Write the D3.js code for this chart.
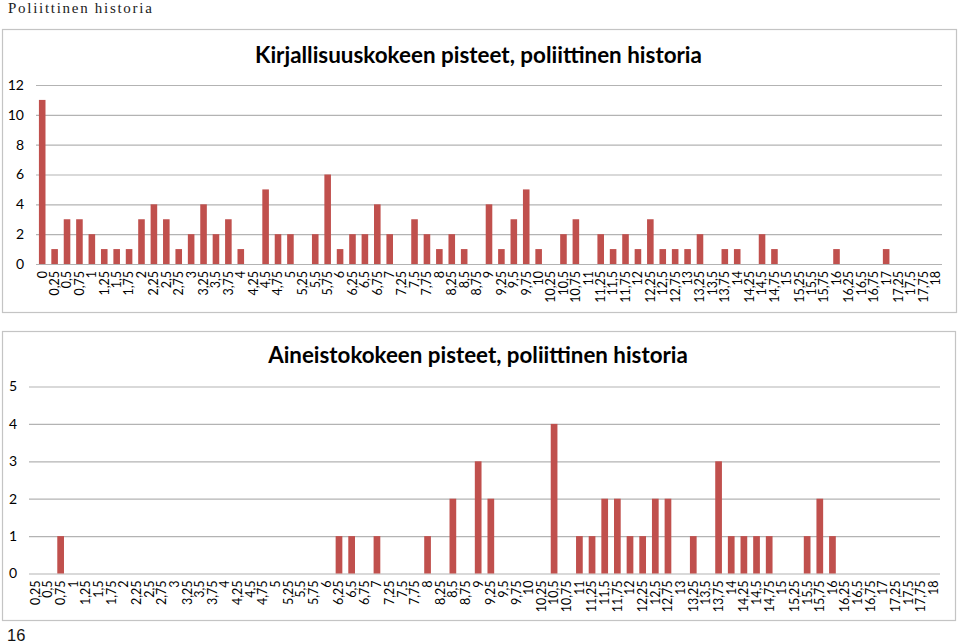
<!DOCTYPE html>
<html>
<head>
<meta charset="utf-8">
<script src="https://cdn.jsdelivr.net/npm/d3@7"></script>
<style>
  body { margin: 0; background: white; }
  svg { display: block; }
  .axis text { font-family: Lato, "Open Sans", sans-serif; fill: #000; }
  .title { font-family: Lato, "Open Sans", sans-serif; font-weight: bold; }
  .header { font-family: "Liberation Serif", serif; letter-spacing: 1.2px; }
</style>
</head>
<body>
<svg width="959" height="643"></svg>
<script>
// === Data

const LIT_CATEGORIES = [
  0, 0.25, 0.5, 0.75, 1, 1.25, 1.5, 1.75, 2, 2.25, 2.5, 2.75, 3, 3.25, 3.5, 3.75,
  4, 4.25, 4.5, 4.75, 5, 5.25, 5.5, 5.75, 6, 6.25, 6.5, 6.75, 7, 7.25, 7.5, 7.75,
  8, 8.25, 8.5, 8.75, 9, 9.25, 9.5, 9.75, 10, 10.25, 10.5, 10.75, 11, 11.25, 11.5, 11.75,
  12, 12.25, 12.5, 12.75, 13, 13.25, 13.5, 13.75, 14, 14.25, 14.5, 14.75, 15, 15.25, 15.5, 15.75,
  16, 16.25, 16.5, 16.75, 17, 17.25, 17.5, 17.75, 18
];
const LIT_COUNTS = [
  11, 1, 3, 3, 2, 1, 1, 1, 3, 4, 3, 1, 2, 4, 2, 3,
  1, 0, 5, 2, 2, 0, 2, 6, 1, 2, 2, 4, 2, 0, 3, 2,
  1, 2, 1, 0, 4, 1, 3, 5, 1, 0, 2, 3, 0, 2, 1, 2,
  1, 3, 1, 1, 1, 2, 0, 1, 1, 0, 2, 1, 0, 0, 0, 0,
  1, 0, 0, 0, 1, 0, 0, 0, 0
];
const LIT_Y_TICKS = [0, 2, 4, 6, 8, 10, 12];

const SRC_CATEGORIES = [
  0.25, 0.5, 0.75, 1, 1.25, 1.5, 1.75, 2, 2.25, 2.5, 2.75, 3, 3.25, 3.5, 3.75,
  4, 4.25, 4.5, 4.75, 5, 5.25, 5.5, 5.75, 6, 6.25, 6.5, 6.75, 7, 7.25, 7.5, 7.75,
  8, 8.25, 8.5, 8.75, 9, 9.25, 9.5, 9.75, 10, 10.25, 10.5, 10.75, 11, 11.25, 11.5, 11.75,
  12, 12.25, 12.5, 12.75, 13, 13.25, 13.5, 13.75, 14, 14.25, 14.5, 14.75, 15, 15.25, 15.5, 15.75,
  16, 16.25, 16.5, 16.75, 17, 17.25, 17.5, 17.75, 18
];
const SRC_COUNTS = [
  0, 0, 1, 0, 0, 0, 0, 0, 0, 0, 0, 0, 0, 0, 0,
  0, 0, 0, 0, 0, 0, 0, 0, 0, 1, 1, 0, 1, 0, 0, 0,
  1, 0, 2, 0, 3, 2, 0, 0, 0, 0, 4, 0, 1, 1, 2, 2,
  1, 1, 2, 2, 0, 1, 0, 3, 1, 1, 1, 1, 0, 0, 1, 2,
  1, 0, 0, 0, 0, 0, 0, 0, 0
];
const SRC_Y_TICKS = [0, 1, 2, 3, 4, 5];

const PAGE_HEADER = 'Poliittinen historia';
const PAGE_NUMBER = '16';


// === Config

const BAR_COLOR = '#c0504d';
const GRID_COLOR = '#b3b3b3';
const BORDER_COLOR = '#c4c4c4';
const BAR_PADDING = 0.47;

const CHARTS = [
  {
    title: 'Kirjallisuuskokeen pisteet, poliittinen historia',
    categories: LIT_CATEGORIES, counts: LIT_COUNTS, yTicks: LIT_Y_TICKS,
    box: { x: 2.5, y: 29.5, width: 954, height: 283 },
    plot: { left: 36, right: 942, top: 85, bottom: 264 },
    titleBaseline: 62.5, titleCenter: 478.5, titleWidth: 447
  },
  {
    title: 'Aineistokokeen pisteet, poliittinen historia',
    categories: SRC_CATEGORIES, counts: SRC_COUNTS, yTicks: SRC_Y_TICKS,
    box: { x: 2.5, y: 331.5, width: 953, height: 289 },
    plot: { left: 29, right: 940, top: 386.5, bottom: 573.5 },
    titleBaseline: 363, titleCenter: 478, titleWidth: 420
  }
];


// === Drawing

const svg = d3.select('svg');

const header = svg.append('text')
  .attr('class', 'header')
  .attr('x', 8)
  .attr('y', 12.5)
  .attr('font-size', 15)
  .attr('fill', '#222')
  .text(PAGE_HEADER);
// stretch the spacing so the header spans the same width as in the original
const headerLen = header.node().getComputedTextLength();
if (headerLen > 0 && headerLen < 145) {
  header.style('letter-spacing', `${1.2 + (145 - headerLen) / (PAGE_HEADER.length - 1)}px`);
}

svg.append('text')
  .attr('x', 7)
  .attr('y', 641)
  .attr('font-family', '"Liberation Sans", Arial, sans-serif')
  .attr('font-size', 16.5)
  .attr('fill', '#111')
  .text(PAGE_NUMBER);

CHARTS.forEach(drawChart);

function drawChart(cfg) {
  const g = svg.append('g').attr('class', 'chart');
  const plot = cfg.plot;

  g.append('rect')
    .attr('x', cfg.box.x)
    .attr('y', cfg.box.y)
    .attr('width', cfg.box.width)
    .attr('height', cfg.box.height)
    .attr('fill', 'white')
    .attr('stroke', BORDER_COLOR)
    .attr('stroke-width', 1.2);

  const x = d3.scaleBand()
    .domain(cfg.categories)
    .range([plot.left, plot.right])
    .paddingInner(BAR_PADDING)
    .paddingOuter(BAR_PADDING / 2);

  const y = d3.scaleLinear()
    .domain([0, d3.max(cfg.yTicks)])
    .range([plot.bottom, plot.top]);

  // y axis with gridlines
  const yAxis = g.append('g')
    .attr('class', 'y axis')
    .attr('transform', `translate(${plot.left},0)`)
    .call(d3.axisLeft(y)
      .tickValues(cfg.yTicks)
      .tickFormat(d3.format('d'))
      .tickSize(-(plot.right - plot.left))
      .tickPadding(12));
  yAxis.select('.domain').remove();
  yAxis.selectAll('line').attr('stroke', GRID_COLOR).attr('stroke-width', 1.2);
  yAxis.selectAll('text').attr('font-size', 14);

  // bars
  g.selectAll('rect.bar')
    .data(cfg.categories.map((c, i) => ({ cat: c, count: cfg.counts[i] })))
    .enter()
    .append('rect')
    .attr('class', 'bar')
    .attr('x', d => x(d.cat))
    .attr('width', x.bandwidth())
    .attr('y', d => y(d.count))
    .attr('height', d => y(0) - y(d.count))
    .attr('fill', BAR_COLOR);

  // x axis, labels rotated
  const xAxis = g.append('g')
    .attr('class', 'x axis')
    .attr('transform', `translate(0,${plot.bottom})`)
    .call(d3.axisBottom(x)
      .tickSize(0)
      .tickFormat(d => String(d).replace('.', ',')));
  xAxis.select('.domain').remove();
  xAxis.selectAll('text')
    .attr('font-size', 12.5)
    .attr('transform', 'rotate(-90)')
    .attr('text-anchor', 'end')
    .attr('x', -7)
    .attr('y', 0)
    .attr('dy', '0.35em');

  // title, scaled to the reference width
  const title = g.append('text')
    .attr('class', 'title')
    .attr('x', cfg.titleCenter)
    .attr('y', cfg.titleBaseline)
    .attr('text-anchor', 'middle')
    .attr('font-size', 20)
    .attr('fill', '#000')
    .text(cfg.title);
  const len = title.node().getComputedTextLength();
  if (len > 0) title.attr('font-size', 20 * cfg.titleWidth / len);
}
</script>
</body>
</html>
